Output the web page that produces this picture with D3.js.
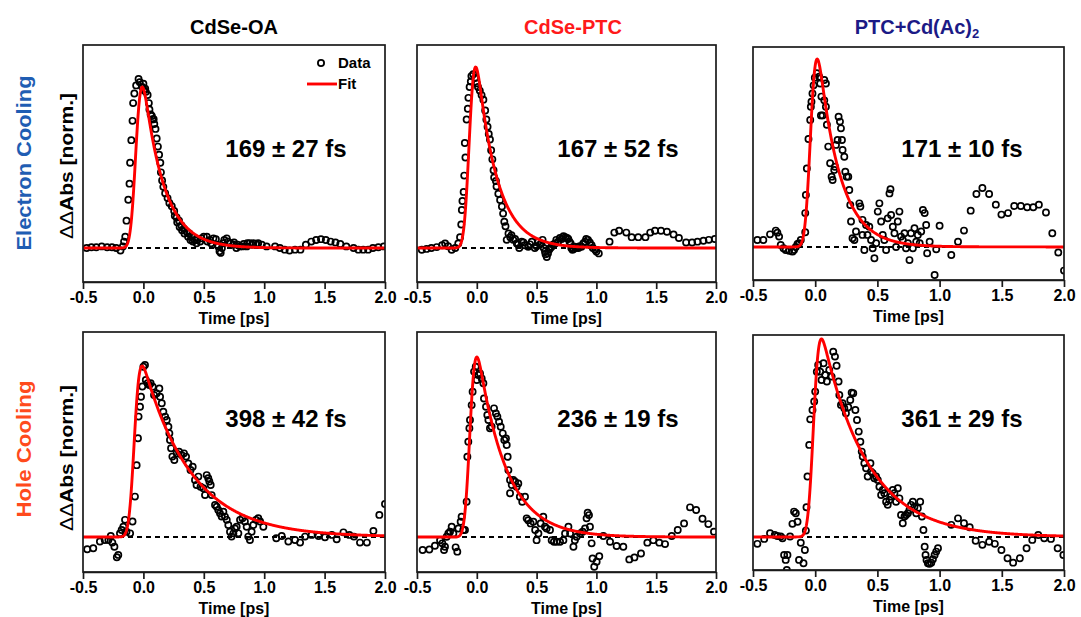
<!DOCTYPE html>
<html>
<head>
<meta charset="utf-8">
<script src="https://cdn.jsdelivr.net/npm/d3@7"></script>
<style>
  body { margin: 0; background: #fff; }
  svg { display: block; }
  text { font-family: "Liberation Sans", Arial, Helvetica, sans-serif; font-weight: bold; }
</style>
</head>
<body>
<svg id="fig" width="1081" height="617"></svg>
<script>
// ---- labels ----
const sampleNames = ["CdSe-OA", "CdSe-PTC", "PTC+Cd(Ac)2"];
const rowNames = ["Electron Cooling", "Hole Cooling"];
const xTicks = [-0.5, 0.0, 0.5, 1.0, 1.5, 2.0];

// fitted cooling time constants and their errors, fs (row-major: electron row, hole row)
const tauFs = [169, 167, 171, 398, 236, 361];
const tauErrFs = [27, 52, 10, 42, 19, 29];
// fit onset (ps) and instrument response width (ps)
const fitT0 = [-0.06, -0.06, -0.035, -0.075, -0.056, -0.013];
const fitSigma = [0.035, 0.035, 0.035, 0.035, 0.035, 0.035];

// ---- measured traces: [time (ps), normalized ΔΔAbs] ----
const oaElectron = [[-0.47,0],[-0.43,0.005],[-0.39,0.005],[-0.345,0.01],[-0.30,0.005],[-0.26,0.005],[-0.225,0],[-0.19,-0.015],[-0.17,0.01],[-0.16,0.04],[-0.15,0.07],[-0.14,0.17],[-0.125,0.30],[-0.115,0.40],[-0.11,0.53],[-0.10,0.67],[-0.09,0.79],[-0.085,0.90],[-0.075,0.96],[-0.06,1.01],[-0.04,1.05],[-0.03,1.03],[-0.01,1.00],[0.0,1.02],[0.005,0.98],[0.015,0.99],[0.02,0.97],[0.035,0.95],[0.045,0.90],[0.05,0.86],[0.06,0.83],[0.07,0.82],[0.075,0.80],[0.085,0.80],[0.09,0.77],[0.10,0.74],[0.11,0.68],[0.12,0.63],[0.13,0.58],[0.14,0.53],[0.145,0.47],[0.155,0.42],[0.165,0.38],[0.18,0.34],[0.20,0.31],[0.215,0.28],[0.235,0.26],[0.255,0.23],[0.26,0.20],[0.275,0.19],[0.28,0.16],[0.295,0.17],[0.30,0.13],[0.315,0.14],[0.32,0.11],[0.335,0.12],[0.34,0.09],[0.36,0.10],[0.37,0.07],[0.38,0.09],[0.39,0.05],[0.40,0.07],[0.41,0.04],[0.425,0.05],[0.44,0.03],[0.445,0.05],[0.47,0.04],[0.48,0.06],[0.50,0.07],[0.525,0.07],[0.53,0.04],[0.55,0.05],[0.56,0.03],[0.58,0.06],[0.60,0.055],[0.61,0.02],[0.62,0.01],[0.63,-0.02],[0.64,-0.03],[0.65,0],[0.66,0.03],[0.67,0.05],[0.69,0.06],[0.70,0.04],[0.72,0.03],[0.745,0.02],[0.75,0.035],[0.77,0],[0.78,0.02],[0.80,0.01],[0.82,0.01],[0.83,0.025],[0.855,0.01],[0.86,0.03],[0.88,0.03],[0.90,0.02],[0.91,0.03],[0.94,0.02],[0.95,0.03],[0.98,0.02],[1.02,0.01],[1.09,0.01],[1.13,0],[1.17,-0.01],[1.21,-0.015],[1.255,-0.01],[1.30,-0.01],[1.345,0.02],[1.39,0.04],[1.43,0.05],[1.47,0.055],[1.51,0.05],[1.55,0.04],[1.59,0.035],[1.63,0.025],[1.68,0.01],[1.74,0],[1.78,-0.01],[1.82,-0.01],[1.86,-0.01],[1.90,0],[1.945,0.005],[1.99,0.01]];

const ptcElectron = [[-0.46,-0.01],[-0.42,-0.005],[-0.38,0],[-0.335,0.005],[-0.29,0.015],[-0.265,0.025],[-0.24,0.01],[-0.21,-0.01],[-0.18,0],[-0.155,0.025],[-0.14,0.06],[-0.13,0.13],[-0.125,0.21],[-0.12,0.26],[-0.11,0.31],[-0.105,0.40],[-0.1,0.58],[-0.095,0.50],[-0.085,0.71],[-0.075,0.77],[-0.07,0.83],[-0.06,0.89],[-0.05,0.92],[-0.045,0.95],[-0.03,0.96],[-0.015,0.94],[0,0.91],[0.01,0.89],[0.025,0.87],[0.04,0.845],[0.055,0.82],[0.07,0.76],[0.08,0.71],[0.09,0.67],[0.1,0.63],[0.11,0.6],[0.12,0.54],[0.13,0.49],[0.14,0.43],[0.145,0.39],[0.16,0.37],[0.165,0.34],[0.18,0.3],[0.195,0.265],[0.21,0.23],[0.22,0.19],[0.23,0.145],[0.24,0.12],[0.25,0.045],[0.265,0.08],[0.28,0.06],[0.29,0.07],[0.305,0.045],[0.32,0.05],[0.335,0.025],[0.345,0.02],[0.355,0],[0.375,0.035],[0.39,0.03],[0.4,0.015],[0.43,0.007],[0.445,0.02],[0.46,0.035],[0.485,0],[0.5,0.01],[0.515,0.035],[0.53,0.02],[0.54,0.025],[0.55,0.045],[0.56,0],[0.57,-0.02],[0.575,-0.035],[0.585,-0.05],[0.595,-0.03],[0.605,-0.01],[0.615,0],[0.625,0.007],[0.64,0.02],[0.655,0.025],[0.665,0.045],[0.68,0.035],[0.695,0.055],[0.71,0.05],[0.725,0.065],[0.74,0.06],[0.755,0.055],[0.765,0.05],[0.775,0.035],[0.785,0.025],[0.79,0],[0.8,-0.01],[0.81,-0.005],[0.82,0.007],[0.83,0],[0.85,0],[0.86,0.01],[0.875,0.007],[0.89,0.025],[0.905,0.035],[0.915,0.05],[0.93,0.045],[0.945,0.03],[0.96,0.015],[0.97,0],[0.99,-0.01],[1.0,-0.02],[1.02,-0.03],[1.11,0.035],[1.15,0.085],[1.19,0.095],[1.25,0.085],[1.295,0.06],[1.35,0.06],[1.41,0.06],[1.45,0.085],[1.49,0.095],[1.54,0.095],[1.59,0.09],[1.645,0.075],[1.69,0.055],[1.75,0.03],[1.8,0.03],[1.845,0.035],[1.895,0.04],[1.94,0.045],[1.99,0.05]];

const cdElectron = [[-0.465,0.037],[-0.417,0.037],[-0.363,0.067],[-0.317,0.087],[-0.304,0.076],[-0.29,0.055],[-0.277,0.01],[-0.255,-0.007],[-0.237,-0.016],[-0.21,-0.02],[-0.183,-0.025],[-0.17,-0.016],[-0.156,0],[-0.142,0.016],[-0.13,0.02],[-0.116,0.037],[-0.08,0.078],[-0.08,0.18],[-0.075,0.277],[-0.067,0.418],[-0.054,0.574],[-0.04,0.676],[-0.035,0.746],[-0.03,0.773],[-0.022,0.817],[-0.013,0.86],[-0.003,0.9],[0.013,0.924],[0.032,0.906],[0.04,0.87],[0.05,0.8],[0.046,0.7],[0.059,0.7],[0.073,0.888],[0.086,0.87],[0.073,0.78],[0.086,0.746],[0.094,0.65],[0.105,0.534],[0.12,0.445],[0.132,0.374],[0.14,0.356],[0.153,0.41],[0.159,0.427],[0.167,0.543],[0.18,0.569],[0.188,0.693],[0.199,0.667],[0.207,0.631],[0.215,0.569],[0.22,0.516],[0.234,0.48],[0.242,0.4],[0.253,0.374],[0.266,0.374],[0.274,0.303],[0.282,0.223],[0.288,0.135],[0.3,0.046],[0.315,0.037],[0.328,0.082],[0.355,0.232],[0.363,0.215],[0.38,0.144],[0.38,0.064],[0.395,-0.016],[0.409,0.117],[0.42,0.064],[0.435,0.108],[0.449,0.037],[0.462,-0.007],[0.476,-0.06],[0.49,0.02],[0.503,0.188],[0.516,0.232],[0.53,0.135],[0.543,0.064],[0.556,0.037],[0.57,-0.016],[0.583,0.152],[0.597,0.285],[0.605,0.307],[0.61,0.17],[0.624,0.108],[0.637,0.073],[0.65,0],[0.664,0.135],[0.677,0.188],[0.69,0.055],[0.704,0.037],[0.718,0.073],[0.73,-0.007],[0.745,0.02],[0.758,-0.07],[0.77,0.073],[0.785,-0.007],[0.798,0.1],[0.812,0.028],[0.825,0.064],[0.84,0.02],[0.852,0.082],[0.866,0.197],[0.88,0.18],[0.892,0.117],[0.9,-0.034],[0.92,0.028],[0.96,-0.149],[0.973,-0.012],[1.0,0.113],[1.094,-0.043],[1.148,0.028],[1.196,0.087],[1.25,0.193],[1.296,0.282],[1.344,0.314],[1.398,0.282],[1.452,0.225],[1.497,0.172],[1.55,0.18],[1.6,0.218],[1.653,0.218],[1.704,0.211],[1.753,0.211],[1.798,0.225],[1.855,0.183],[1.906,0.073],[1.954,-0.03],[2.0,-0.126]];

const oaHole = [[-0.465,-0.072],[-0.415,-0.066],[-0.36,-0.027],[-0.32,-0.018],[-0.29,-0.018],[-0.27,0.006],[-0.257,-0.033],[-0.24,-0.057],[-0.22,-0.119],[-0.208,-0.105],[-0.194,0.021],[-0.18,0.041],[-0.166,0.06],[-0.152,0.1],[-0.14,0.031],[-0.11,0.021],[-0.09,0.09],[-0.07,0.236],[-0.056,0.42],[-0.045,0.577],[-0.04,0.704],[-0.028,0.762],[-0.02,0.82],[-0.009,0.88],[0,0.996],[0.013,1.006],[0.02,0.918],[0.035,0.899],[0.049,0.889],[0.06,0.899],[0.077,0.879],[0.088,0.83],[0.11,0.84],[0.132,0.869],[0.138,0.82],[0.152,0.782],[0.165,0.733],[0.18,0.704],[0.193,0.684],[0.207,0.645],[0.215,0.606],[0.22,0.567],[0.229,0.519],[0.24,0.47],[0.256,0.45],[0.275,0.489],[0.295,0.499],[0.316,0.48],[0.336,0.489],[0.353,0.47],[0.372,0.43],[0.39,0.392],[0.408,0.411],[0.427,0.333],[0.44,0.304],[0.455,0.353],[0.473,0.294],[0.496,0.285],[0.51,0.245],[0.524,0.362],[0.537,0.343],[0.546,0.324],[0.557,0.304],[0.565,0.245],[0.593,0.187],[0.607,0.177],[0.62,0.158],[0.634,0.138],[0.648,0.119],[0.662,0.148],[0.675,0.119],[0.69,0.1],[0.703,0.07],[0.717,0.031],[0.73,0.002],[0.745,0.021],[0.758,0.05],[0.772,0.06],[0.786,0.021],[0.8,0.1],[0.82,0.109],[0.84,0.09],[0.855,0.06],[0.868,0.002],[0.882,-0.018],[0.896,0.031],[0.91,0.07],[0.932,0.1],[0.951,0.109],[0.966,0.09],[0.993,0.06],[1.1,-0.008],[1.145,0.006],[1.2,-0.027],[1.255,-0.018],[1.297,-0.033],[1.338,0.002],[1.393,0.012],[1.45,0.006],[1.503,-0.002],[1.56,0.012],[1.6,-0.014],[1.656,0.027],[1.705,0.012],[1.743,0.002],[1.793,-0.033],[1.85,-0.033],[1.904,0.035],[1.953,0.129],[2.0,0.193]];

const ptcHole = [[-0.453,-0.072],[-0.397,-0.069],[-0.35,-0.048],[-0.307,-0.017],[-0.288,-0.035],[-0.274,-0.072],[-0.266,-0.054],[-0.252,0.002],[-0.238,0.02],[-0.224,0.03],[-0.21,0.057],[-0.196,0.02],[-0.177,-0.057],[-0.163,-0.081],[-0.154,0.048],[-0.135,0.085],[-0.127,0.113],[-0.113,0.039],[-0.099,0.039],[-0.085,0.196],[-0.079,0.446],[-0.071,0.53],[-0.062,0.604],[-0.057,0.65],[-0.043,0.733],[-0.035,0.807],[-0.023,0.919],[-0.009,0.946],[0,0.872],[0.013,0.9],[0.027,0.909],[0.041,0.881],[0.055,0.854],[0.06,0.77],[0.077,0.724],[0.088,0.678],[0.097,0.65],[0.11,0.604],[0.124,0.613],[0.144,0.715],[0.16,0.687],[0.172,0.669],[0.186,0.641],[0.2,0.613],[0.217,0.576],[0.23,0.539],[0.244,0.548],[0.25,0.511],[0.258,0.446],[0.264,0.372],[0.278,0.317],[0.292,0.289],[0.305,0.317],[0.32,0.307],[0.333,0.28],[0.347,0.298],[0.278,0.243],[0.36,0.224],[0.38,0.196],[0.403,0.224],[0.417,0.104],[0.43,0.094],[0.45,0.076],[0.473,0.085],[0.488,0.039],[0.5,-0.017],[0.515,0.02],[0.534,0.076],[0.556,0.113],[0.57,0.057],[0.584,0.048],[0.612,0.039],[0.626,-0.017],[0.645,-0.026],[0.668,-0.026],[0.696,-0.026],[0.724,-0.017],[0.738,0.02],[0.766,0.057],[0.78,0.02],[0.808,-0.054],[0.82,-0.017],[0.835,0.002],[0.863,0.02],[0.885,0.03],[0.905,0.048],[0.918,0.104],[0.927,0.135],[0.938,0.122],[0.946,0.057],[0.96,-0.035],[0.968,-0.119],[0.982,-0.165],[1.002,-0.137],[1.024,-0.106],[1.058,0.006],[1.114,-0.026],[1.169,-0.05],[1.225,-0.054],[1.275,-0.124],[1.318,-0.113],[1.373,-0.091],[1.426,-0.031],[1.476,-0.017],[1.526,-0.031],[1.574,-0.039],[1.63,0.006],[1.68,0.039],[1.733,0.076],[1.783,0.165],[1.834,0.15],[1.887,0.102],[1.936,0.072],[1.983,0.03]];

const cdHole = [[-0.465,-0.035],[-0.41,-0.01],[-0.363,0.019],[-0.325,0.01],[-0.304,0.005],[-0.277,0.002],[-0.263,-0.007],[-0.25,-0.091],[-0.237,-0.116],[-0.228,-0.167],[-0.223,-0.091],[-0.202,0.002],[-0.183,0.066],[-0.17,0.128],[-0.156,0.12],[-0.142,0.077],[-0.13,-0.116],[-0.116,-0.029],[-0.094,-0.133],[-0.083,-0.066],[-0.075,0.032],[-0.07,0.15],[-0.062,0.305],[-0.048,0.465],[-0.04,0.594],[-0.022,0.641],[-0.008,0.684],[0,0.734],[0.013,0.835],[0.024,0.869],[0.04,0.835],[0.051,0.793],[0.067,0.877],[0.08,0.818],[0.094,0.785],[0.113,0.843],[0.132,0.81],[0.145,0.936],[0.159,0.911],[0.172,0.865],[0.188,0.785],[0.194,0.717],[0.207,0.667],[0.22,0.675],[0.234,0.65],[0.247,0.625],[0.266,0.655],[0.282,0.692],[0.293,0.729],[0.306,0.726],[0.323,0.641],[0.336,0.591],[0.35,0.532],[0.363,0.481],[0.374,0.431],[0.382,0.406],[0.395,0.372],[0.409,0.347],[0.422,0.305],[0.444,0.372],[0.449,0.33],[0.462,0.322],[0.476,0.296],[0.489,0.305],[0.503,0.288],[0.516,0.254],[0.53,0.212],[0.543,0.237],[0.556,0.221],[0.57,0.178],[0.583,0.162],[0.597,0.187],[0.61,0.204],[0.624,0.237],[0.637,0.221],[0.65,0.178],[0.664,0.246],[0.677,0.195],[0.69,0.111],[0.704,0.069],[0.718,0.103],[0.73,0.111],[0.745,0.12],[0.758,0.136],[0.77,0.162],[0.785,0.178],[0.798,0.153],[0.812,0.12],[0.825,0.145],[0.844,0.178],[0.858,0.103],[0.87,0.035],[0.88,-0.049],[0.887,-0.091],[0.895,-0.116],[0.906,-0.133],[0.919,-0.136],[0.933,-0.13],[0.946,-0.113],[0.96,-0.091],[0.973,-0.074],[0.987,-0.057],[1.094,0.061],[1.148,0.094],[1.196,0.069],[1.242,0.049],[1.29,-0.019],[1.344,-0.04],[1.398,-0.024],[1.444,-0.035],[1.497,-0.066],[1.546,-0.108],[1.591,-0.13],[1.645,-0.108],[1.699,-0.057],[1.745,-0.015],[1.793,0.01],[1.841,-0.007],[1.895,-0.01],[1.949,-0.057],[1.995,-0.091]];

const traces = [oaElectron, ptcElectron, cdElectron, oaHole, ptcHole, cdHole];

// ---- layout: plot frames [left, right, top, bottom] and y ranges ----
const frames = [
  [83, 385, 45, 282], [417, 716, 45, 282], [753, 1064, 47, 280],
  [83, 385, 332, 572], [417, 716, 332, 572], [753, 1064, 335, 570]
];
const yDomains = [
  [-0.211, 1.261], [-0.188, 1.122], [-0.176, 1.064],
  [-0.205, 1.199], [-0.194, 1.139], [-0.167, 1.020]
];
// baseline of the time-constant label in each panel
const labelBaselines = [157, 157, 157, 427, 427, 427];

const titleColors = ["#000000", "#ff1a1a", "#1b1a86"];
const rowColors = ["#1f5db3", "#ff4a1c"];

// error function (Abramowitz & Stegun 7.1.26)
function erf(x) {
  const s = Math.sign(x); x = Math.abs(x);
  const t = 1 / (1 + 0.3275911 * x);
  const y = 1 - (((((1.061405429 * t - 1.453152027) * t) + 1.421413741) * t - 0.284496736) * t + 0.254829592) * t * Math.exp(-x * x);
  return s * y;
}
// mono-exponential decay convolved with a Gaussian instrument response
function fitModel(t, t0, sigma, tau) {
  const d = t - t0;
  return 0.5 * Math.exp(sigma * sigma / (2 * tau * tau) - d / tau) *
         (1 + erf((d - sigma * sigma / tau) / (sigma * Math.SQRT2)));
}

const svg = d3.select("#fig");
const fmt = d => d.toFixed(1);

traces.forEach((trace, i) => {
  const [L, R, T, B] = frames[i];
  const x = d3.scaleLinear().domain([-0.5, 2.0]).range([L, R]);
  const y = d3.scaleLinear().domain(yDomains[i]).range([B, T]);
  const g = svg.append("g");

  const clipId = "clip" + i;
  svg.append("clipPath").attr("id", clipId)
    .append("rect").attr("x", L).attr("y", T).attr("width", R - L).attr("height", B - T);
  const plot = g.append("g").attr("clip-path", `url(#${clipId})`);

  // zero line
  plot.append("line")
    .attr("x1", x(-0.5)).attr("x2", x(2.0)).attr("y1", y(0)).attr("y2", y(0))
    .attr("stroke", "#000").attr("stroke-width", 2).attr("stroke-dasharray", "5,4");

  // data
  plot.selectAll("circle").data(trace).join("circle")
    .attr("cx", d => x(d[0])).attr("cy", d => y(d[1])).attr("r", 3.1)
    .attr("fill", "none").attr("stroke", "#000").attr("stroke-width", 1.7);

  // fit
  const tau = tauFs[i] / 1000;
  const grid = d3.range(-0.5, 2.0001, 0.003);
  const raw = grid.map(t => fitModel(t, fitT0[i], fitSigma[i], tau));
  const peak = d3.max(raw);
  const fitPts = grid.map((t, k) => [t, raw[k] / peak]);
  plot.append("path").datum(fitPts)
    .attr("d", d3.line().x(d => x(d[0])).y(d => y(d[1])))
    .attr("fill", "none").attr("stroke", "#ff0000").attr("stroke-width", 2.9)
    .attr("stroke-linejoin", "round");

  // frame
  g.append("rect").attr("x", L).attr("y", T).attr("width", R - L).attr("height", B - T)
    .attr("fill", "none").attr("stroke", "#1a1a1a").attr("stroke-width", 1.7);

  // x axis
  const ax = g.append("g").attr("transform", `translate(0,${B})`)
    .call(d3.axisBottom(x).tickValues(xTicks).tickFormat(fmt).tickSize(7).tickSizeOuter(0).tickPadding(2.5));
  ax.select(".domain").attr("stroke", "#1a1a1a").attr("stroke-width", 1.7);
  ax.selectAll(".tick line").attr("stroke", "#1a1a1a").attr("stroke-width", 1.7);
  ax.selectAll(".tick text").attr("font-size", 16).attr("fill", "#000")
    .style("font-family", '"Liberation Sans", Arial, sans-serif').style("font-weight", "bold");

  g.append("text").attr("x", (L + R) / 2).attr("y", B + 42)
    .attr("text-anchor", "middle").attr("font-size", 16).text("Time [ps]");

  // time constant
  g.append("text").attr("x", x(1.18)).attr("y", labelBaselines[i])
    .attr("text-anchor", "middle").attr("font-size", 24)
    .text(`${tauFs[i]} ± ${tauErrFs[i]} fs`);
});

// column titles
const colCenters = [234, 573, 917];
sampleNames.forEach((name, c) => {
  const t = svg.append("text").attr("x", colCenters[c]).attr("y", 34)
    .attr("text-anchor", "middle").attr("font-size", 20).attr("fill", titleColors[c]);
  if (name.endsWith("2")) {
    t.append("tspan").text(name.slice(0, -1));
    t.append("tspan").attr("font-size", 13).attr("dy", 4).text("2");
  } else {
    t.text(name);
  }
});

// row labels and y-axis titles
const rowCenters = [163, 449];
const yTitleCenters = [166, 458];
rowNames.forEach((name, r) => {
  svg.append("text")
    .attr("transform", `translate(31,${rowCenters[r]}) rotate(-90)`)
    .attr("text-anchor", "middle").attr("font-size", 20).attr("fill", rowColors[r])
    .attr("textLength", r === 0 ? 175 : 137).attr("lengthAdjust", "spacingAndGlyphs")
    .text(name);
  const yt = svg.append("text")
    .attr("transform", `translate(73,${yTitleCenters[r]}) rotate(-90)`)
    .attr("text-anchor", "middle").attr("font-size", 18).attr("fill", "#000")
    .attr("textLength", 146).attr("lengthAdjust", "spacingAndGlyphs");
  yt.append("tspan").style("font-weight", "normal").text("ΔΔ");
  yt.append("tspan").text("Abs [norm.]");
});

// legend (first panel)
const lg = svg.append("g");
lg.append("circle").attr("cx", 321).attr("cy", 63).attr("r", 3.1)
  .attr("fill", "none").attr("stroke", "#000").attr("stroke-width", 1.8);
lg.append("text").attr("x", 338).attr("y", 68).attr("font-size", 15).text("Data");
lg.append("line").attr("x1", 307).attr("x2", 337).attr("y1", 84).attr("y2", 84)
  .attr("stroke", "#ff0000").attr("stroke-width", 2.9);
lg.append("text").attr("x", 338).attr("y", 89).attr("font-size", 15).text("Fit");
</script>
</body>
</html>
